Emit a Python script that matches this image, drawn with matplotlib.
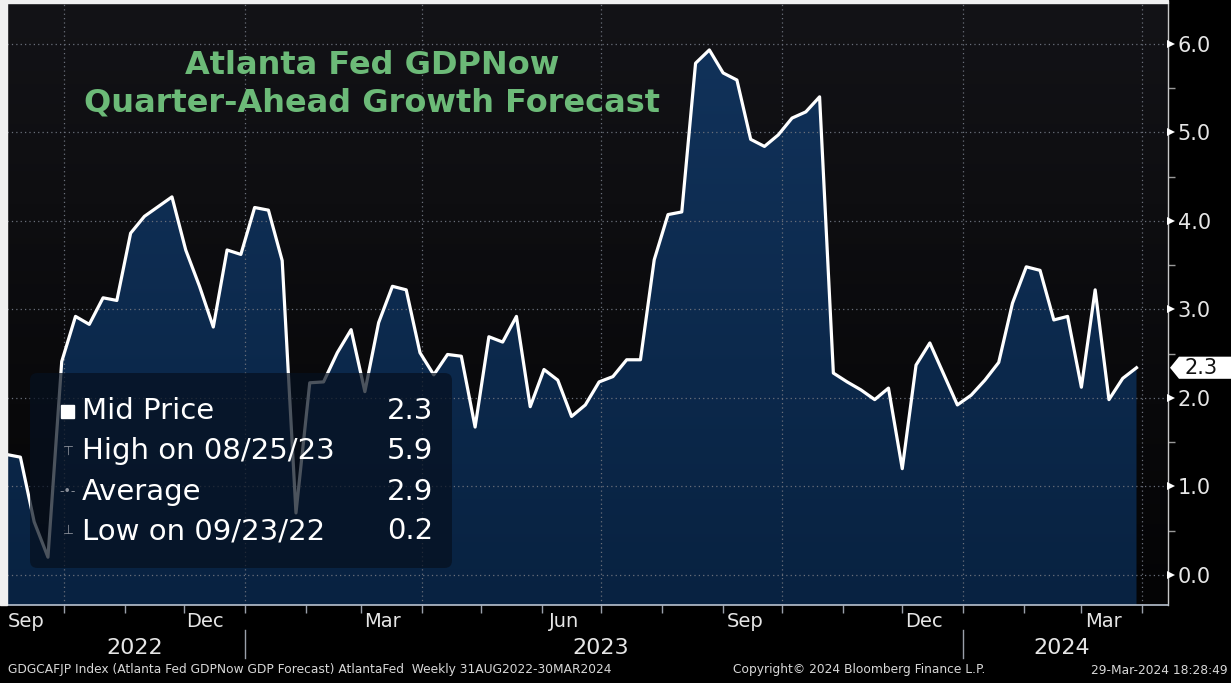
import numpy as np
import pandas as pd
import matplotlib as mpl
mpl.use('Agg')
import matplotlib.pyplot as plt
import matplotlib.dates as mdates
from matplotlib import transforms
from matplotlib.colors import LinearSegmentedColormap
from matplotlib.patches import FancyBboxPatch, Polygon, Rectangle
from matplotlib.ticker import FuncFormatter, NullFormatter

# weekly GDPNow quarter-ahead forecast, Fridays from 02-Sep-2022
start_date = '2022-09-02'
gdpnow = [1.36, 1.33, 0.60, 0.20, 2.41, 2.92, 2.83, 3.13, 3.10, 3.86,
          4.05, 4.16, 4.27, 3.67, 3.26, 2.80, 3.67, 3.62, 4.15, 4.12,
          3.55, 0.70, 2.17, 2.18, 2.51, 2.77, 2.07, 2.85, 3.26, 3.22,
          2.51, 2.26, 2.49, 2.47, 1.67, 2.69, 2.63, 2.92, 1.90, 2.32,
          2.20, 1.79, 1.92, 2.18, 2.24, 2.43, 2.43, 3.56, 4.07, 4.10,
          5.78, 5.93, 5.67, 5.59, 4.92, 4.84, 4.97, 5.16, 5.23, 5.40,
          2.28, 2.18, 2.09, 1.98, 2.11, 1.20, 2.37, 2.62, 2.27, 1.92,
          2.03, 2.20, 2.40, 3.07, 3.48, 3.44, 2.88, 2.92, 2.12, 3.22,
          1.98, 2.22, 2.34]

yticks = [0, 1, 2, 3, 4, 5, 6]
years = ['2022', '2023', '2024']
year_pos = ['2022-11-06', '2023-07-01', '2024-02-20']
year_breaks = ['2023-01-01', '2024-01-01']
legend_labels = ['Mid Price', 'High on 08/25/23', 'Average', 'Low on 09/23/22']
legend_values = ['2.3', '5.9', '2.9', '0.2']
last_label = '2.3'

W, H = 1231, 683
fig = plt.figure(figsize=(W / 100, H / 100), dpi=100, facecolor='black')
ax = fig.add_axes([7 / W, 1 - 605 / H, (1168 - 7) / W, (605 - 3) / H])

dates = pd.date_range(start_date, periods=len(gdpnow), freq='7D')
x = mdates.date2num(dates)
xmin, xmax = x[0] + 0.2, x[0] + 590
ymin, ymax = -0.34, 6.46

# background gradient
grad = np.linspace(0, 1, 256).reshape(-1, 1)
bg = LinearSegmentedColormap.from_list('bg', ['#040405', '#131317'])
ax.imshow(grad, extent=[0, 1, 0, 1], transform=ax.transAxes, origin='lower',
          cmap=bg, aspect='auto', zorder=0)

# area fill with gradient
poly = ax.fill_between(x, gdpnow, ymin, facecolor='none', edgecolor='none')
fillmap = LinearSegmentedColormap.from_list('fl', ['#082241', '#11325a'])
im = ax.imshow(grad, extent=[x[0], x[-1], ymin, 6.0], origin='lower',
               cmap=fillmap, aspect='auto', zorder=1)
im.set_clip_path(poly.get_paths()[0], transform=ax.transData)

ax.plot(x, gdpnow, color='white', lw=2.3, zorder=3)

# dotted grid
for v in yticks:
    ax.axhline(v, color='#6a6f7a', lw=0.9, ls=(0, (1, 2.5)), zorder=2)
for q in pd.date_range('2022-10-01', '2024-04-01', freq='QS'):
    ax.axvline(mdates.date2num(q), color='#6a6f7a', lw=0.9, ls=(0, (1, 2.5)), zorder=2)

ax.set_xlim(xmin, xmax)
ax.set_ylim(ymin, ymax)

# right axis
ax.yaxis.tick_right()
ax.set_yticks(yticks)
ax.set_yticklabels([f'{v:.1f}' for v in yticks])
ax.set_yticks(np.arange(0.5, 6.5, 1.0), minor=True)
ax.tick_params(axis='y', which='major', length=0, pad=7, labelsize=15, labelcolor='#e6e6e6')
ax.tick_params(axis='y', which='minor', length=5, width=1, color='#9a9a9a', direction='out')
tri = transforms.offset_copy(transforms.blended_transform_factory(ax.transAxes, ax.transData),
                             fig=fig, x=3, y=0, units='dots')
ax.plot([1.0] * len(yticks), yticks, transform=tri, marker='>', ls='none', ms=6,
        color='white', mew=0, clip_on=False, zorder=6)

# bottom axis
ax.xaxis.set_major_locator(mdates.MonthLocator())
ax.xaxis.set_major_formatter(NullFormatter())
ax.xaxis.set_minor_locator(mdates.MonthLocator(bymonthday=12))


def month_fmt(v, pos):
    d = mdates.num2date(v)
    return d.strftime('%b') if d.month in (3, 6, 9, 12) else ''


ax.xaxis.set_minor_formatter(FuncFormatter(month_fmt))
ax.tick_params(axis='x', which='major', length=6, width=1, color='#9aa0aa', direction='out')
ax.tick_params(axis='x', which='minor', length=0, pad=5, labelsize=14, labelcolor='#e6e6e6')

bl = transforms.blended_transform_factory(ax.transData, ax.transAxes)
for lab, pos in zip(years, year_pos):
    ax.text(mdates.date2num(pd.Timestamp(pos)), -0.0714, lab, transform=bl,
            ha='center', va='center', fontsize=16, color='#e6e6e6')
for b in year_breaks:
    bx = mdates.date2num(pd.Timestamp(b))
    ax.plot([bx, bx], [-0.042, -0.088], transform=bl, color='#9aa0aa', lw=1, clip_on=False)

for s in ['left', 'top']:
    ax.spines[s].set_visible(False)
ax.spines['right'].set_color('#c8c8c8')
ax.spines['right'].set_linewidth(1)
ax.spines['bottom'].set_color('#b8c2d0')
ax.spines['bottom'].set_linewidth(1.2)

# screenshot border strips
fig.patches.append(Rectangle((0, 1 - 605 / H), 7 / W, 605 / H, transform=fig.transFigure,
                             color='#f0f0f0', zorder=10))
fig.patches.append(Rectangle((0, 1 - 3 / H), 1168 / W, 3 / H, transform=fig.transFigure,
                             color='#f0f0f0', zorder=10))

# title
green = '#6cba78'
fig.text(372 / W, 1 - 66 / H, 'Atlanta Fed GDPNow', ha='center', va='center',
         fontsize=23, fontweight='bold', color=green)
fig.text(372 / W, 1 - 103 / H, 'Quarter-Ahead Growth Forecast', ha='center', va='center',
         fontsize=23, fontweight='bold', color=green)

# legend box
box = FancyBboxPatch((30 / W, 1 - 568 / H), 422 / W, 195 / H,
                     boxstyle='round,pad=0,rounding_size=0.006', mutation_aspect=W / H,
                     transform=fig.transFigure, fc='#06101f', ec='none', alpha=0.72, zorder=5)
fig.patches.append(box)
rows_y = [411, 451, 492, 531]
for lab, val, ry in zip(legend_labels, legend_values, rows_y):
    fig.text(82 / W, 1 - ry / H, lab, ha='left', va='center', fontsize=21, color='white', zorder=7)
    fig.text(433 / W, 1 - ry / H, val, ha='right', va='center', fontsize=21, color='white', zorder=7)
fig.patches.append(Rectangle((61 / W, 1 - 418 / H), 13 / W, 13 / H, transform=fig.transFigure,
                             color='white', zorder=7))
for sym, ry in zip(['\u22a4', '-\u2022-', '\u22a5'], rows_y[1:]):
    fig.text(68 / W, 1 - ry / H, sym, ha='center', va='center', fontsize=9, color='#8a8f99', zorder=7)

# last value tag
tag = transforms.blended_transform_factory(fig.transFigure, ax.transData)
yl = gdpnow[-1]
h = 0.125
fig.add_artist(Polygon([(1170 / W, yl), (1179 / W, yl + h), (1.0, yl + h), (1.0, yl - h),
                        (1179 / W, yl - h)], closed=True, transform=tag, fc='white',
                       ec='none', clip_on=False, zorder=8))
fig.text(1184 / W, yl, last_label, transform=tag, ha='left', va='center', fontsize=15,
         color='#111111', zorder=9)

# footer
foot = '#d8d8d8'
fig.text(8 / W, 1 - 670 / H,
         'GDGCAFJP Index (Atlanta Fed GDPNow GDP Forecast) AtlantaFed  Weekly 31AUG2022-30MAR2024',
         ha='left', va='center', fontsize=8.8, color=foot)
fig.text(733 / W, 1 - 670 / H, 'Copyright\u00a9 2024 Bloomberg Finance L.P.',
         ha='left', va='center', fontsize=8.8, color=foot)
fig.text(1228 / W, 1 - 670 / H, '29-Mar-2024 18:28:49',
         ha='right', va='center', fontsize=8.8, color=foot)

fig.savefig('out.png', dpi=100, facecolor='black')
plt.close(fig)
